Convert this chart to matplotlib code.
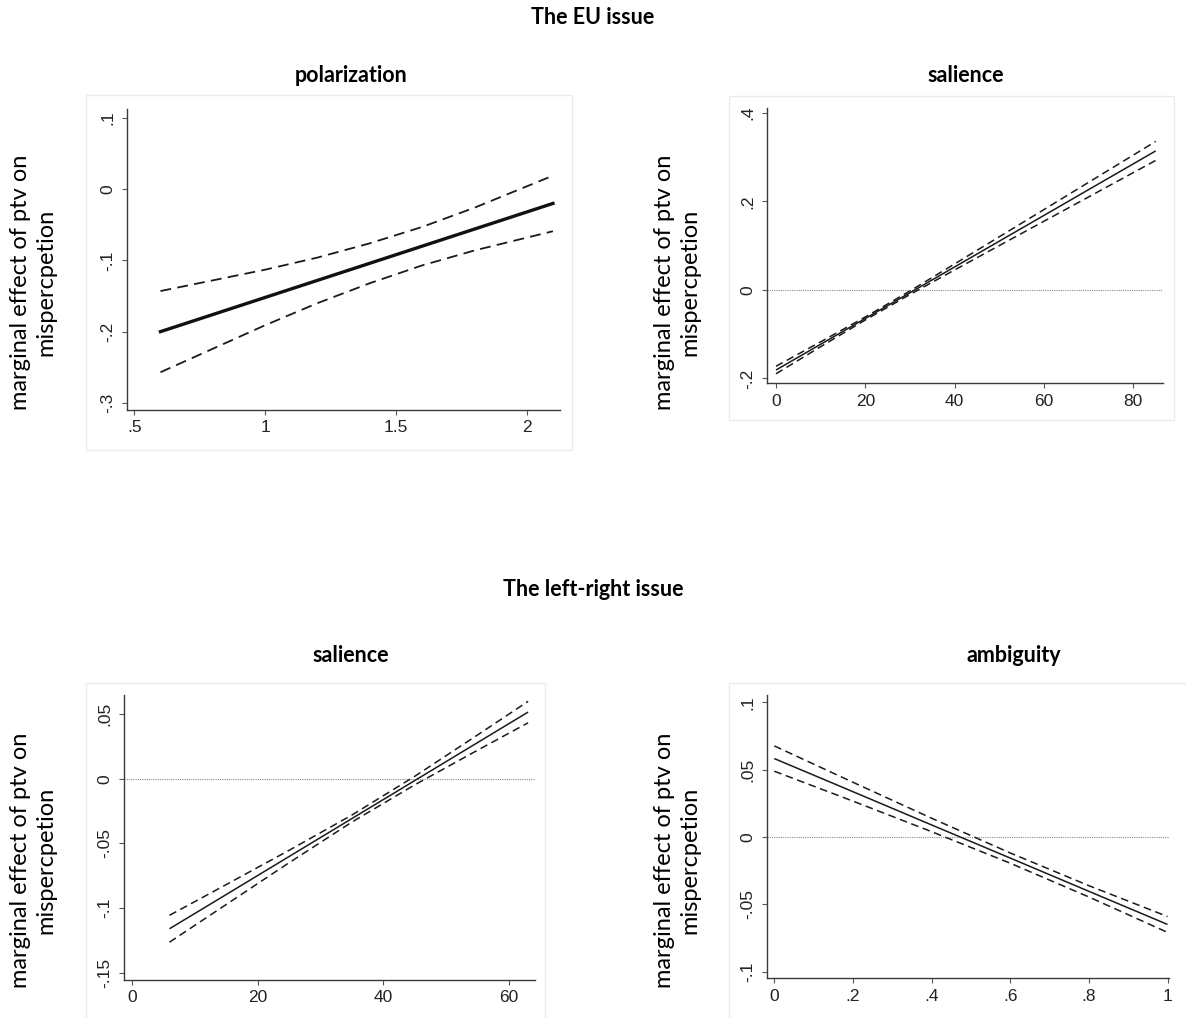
import matplotlib
matplotlib.use("Agg")
import matplotlib.pyplot as plt
from matplotlib.patches import Rectangle

# EU issue: polarization
pol_x = [0.6, 0.8, 1.0, 1.2, 1.4, 1.6, 1.8, 2.0, 2.1]
pol_est = [-0.200, -0.176, -0.152, -0.128, -0.104, -0.080, -0.056, -0.032, -0.020]
pol_hi = [-0.143, -0.128, -0.113, -0.096, -0.076, -0.053, -0.026, 0.004, 0.019]
pol_lo = [-0.257, -0.224, -0.191, -0.160, -0.132, -0.107, -0.086, -0.068, -0.059]

# EU issue: salience
eusal_x = [0, 10, 20, 30, 40, 50, 60, 70, 80, 85]
eusal_est = [-0.181, -0.1228, -0.0645, -0.0063, 0.0520, 0.1102, 0.1684, 0.2267, 0.2849, 0.314]
eusal_hw = [0.0085, 0.0055, 0.0034, 0.0040, 0.0068, 0.0099, 0.0132, 0.0165, 0.0198, 0.0215]

# left-right issue: salience
lrsal_x = [6, 15, 25, 35, 45, 55, 63]
lrsal_est = [-0.116, -0.0896, -0.0602, -0.0308, -0.0014, 0.0280, 0.0515]
lrsal_hw = [0.0104, 0.0077, 0.0048, 0.0027, 0.0033, 0.0059, 0.0083]

# left-right issue: ambiguity
amb_x = [0, 0.2, 0.4, 0.6, 0.8, 1.0]
amb_est = [0.0582, 0.0336, 0.0089, -0.0157, -0.0404, -0.0650]
amb_hw = [0.0094, 0.0070, 0.0050, 0.0038, 0.0042, 0.0059]

W, H = 1186, 1018
fig = plt.figure(figsize=(W / 100, H / 100), dpi=100)
fig.patch.set_facecolor("white")

TICK_FONT = "Liberation Sans"
TEXT_FONT = ["Lato", "DejaVu Sans"]
YLABEL = "marginal effect of ptv on\nmispercpetion"


def px_axes(x0, x1, y0, y1):
    # pixel box (top-left origin) -> figure axes
    return fig.add_axes([x0 / W, 1 - y1 / H, (x1 - x0) / W, (y1 - y0) / H])


def frame(x0, x1, y0, y1):
    fig.patches.append(Rectangle((x0 / W, 1 - y1 / H), (x1 - x0) / W, (y1 - y0) / H,
                                 transform=fig.transFigure, fill=False,
                                 edgecolor="#e6edf1", lw=1.0, zorder=0))


def style(ax, xlim, ylim, xticks, xlabels, yticks, ylabels):
    ax.set_xlim(*xlim)
    ax.set_ylim(*ylim)
    for s in ["top", "right"]:
        ax.spines[s].set_visible(False)
    for s in ["left", "bottom"]:
        ax.spines[s].set_color("#3a3a3a")
        ax.spines[s].set_linewidth(1.0)
    ax.set_xticks(xticks)
    ax.set_xticklabels(xlabels, fontfamily=TICK_FONT, fontsize=12.5, color="#222222")
    ax.set_yticks(yticks)
    ax.set_yticklabels(ylabels, fontfamily=TICK_FONT, fontsize=12.5, color="#222222",
                       rotation=90, va="center")
    ax.tick_params(length=3.5, width=0.8, color="#555555", pad=4)
    ax.tick_params(axis="y", pad=5)
    ax.patch.set_alpha(0)


def ci_lines(ax, x, est, hw, lw=1.1):
    hi = [e + h for e, h in zip(est, hw)]
    lo = [e - h for e, h in zip(est, hw)]
    ax.plot(x, est, color="#1a1a1a", lw=lw, solid_capstyle="butt")
    ax.plot(x, hi, color="#1a1a1a", lw=1.1, ls=(0, (5, 3)))
    ax.plot(x, lo, color="#1a1a1a", lw=1.1, ls=(0, (5, 3)))


def zero_line(ax):
    ax.axhline(0, color="#8a8a8a", lw=0.8, ls=(0, (1, 1)), zorder=0)


# graph region outlines
frame(86, 572, 95, 450)
frame(729, 1174, 96, 420)
frame(86, 545, 683, 1030)
frame(729, 1200, 683, 1030)

# polarization
ax1 = px_axes(126.7, 560, 109, 410)
ax1.plot(pol_x, pol_est, color="#111111", lw=2.4)
ax1.plot(pol_x, pol_hi, color="#1a1a1a", lw=1.3, ls=(0, (6, 3.5)))
ax1.plot(pol_x, pol_lo, color="#1a1a1a", lw=1.3, ls=(0, (6, 3.5)))
style(ax1, (0.471, 2.127), (-0.310, 0.1126),
      [0.5, 1, 1.5, 2], [".5", "1", "1.5", "2"],
      [-0.3, -0.2, -0.1, 0, 0.1], ["-.3", "-.2", "-.1", "0", ".1"])

# EU salience
ax2 = px_axes(766.7, 1163.3, 108, 383.3)
zero_line(ax2)
ci_lines(ax2, eusal_x, eusal_est, eusal_hw)
style(ax2, (-2.08, 86.7), (-0.211, 0.411),
      [0, 20, 40, 60, 80], ["0", "20", "40", "60", "80"],
      [-0.2, 0, 0.2, 0.4], ["-.2", "0", ".2", ".4"])

# left-right salience
ax3 = px_axes(124.3, 535, 695, 980)
zero_line(ax3)
ci_lines(ax3, lrsal_x, lrsal_est, lrsal_hw)
style(ax3, (-1.18, 64.1), (-0.1556, 0.0647),
      [0, 20, 40, 60], ["0", "20", "40", "60"],
      [-0.15, -0.1, -0.05, 0, 0.05], ["-.15", "-.1", "-.05", "0", ".05"])

# ambiguity
ax4 = px_axes(766.8, 1168.7, 695, 978.3)
zero_line(ax4)
ci_lines(ax4, amb_x, amb_est, amb_hw)
style(ax4, (-0.019, 1.003), (-0.105, 0.1054),
      [0, 0.2, 0.4, 0.6, 0.8, 1], ["0", ".2", ".4", ".6", ".8", "1"],
      [-0.1, -0.05, 0, 0.05, 0.1], ["-.1", "-.05", "0", ".05", ".1"])


# titles and outer labels
def ftext(x, y, s, **kw):
    fig.text(x / W, 1 - y / H, s, ha="center", va="center", fontfamily=TEXT_FONT, **kw)


ftext(593, 18, "The EU issue", fontsize=15.5, fontweight="bold")
ftext(593, 589, "The left-right issue", fontsize=15.5, fontweight="bold")
ftext(351, 75, "polarization", fontsize=15.5, fontweight="bold")
ftext(966, 75, "salience", fontsize=15.5, fontweight="bold")
ftext(351, 655, "salience", fontsize=15.5, fontweight="bold")
ftext(1014, 655, "ambiguity", fontsize=15.5, fontweight="bold")

for cx, cy in [(33, 282), (677, 282), (33, 860), (677, 860)]:
    ftext(cx, cy, YLABEL, fontsize=17, rotation=90, linespacing=1.25)

fig.savefig("out.png", dpi=100)
